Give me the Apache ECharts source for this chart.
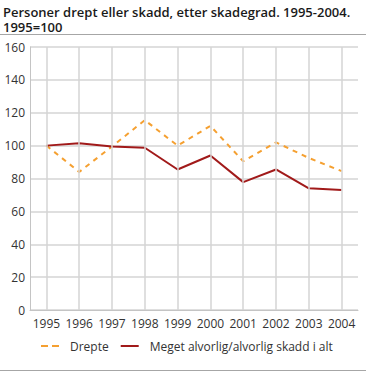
<!DOCTYPE html>
<html><head><meta charset="utf-8">
<script src="https://cdn.jsdelivr.net/npm/echarts@6/dist/echarts.min.js"></script>
<style>html,body{margin:0;padding:0;background:#fff}#c{width:366px;height:372px}</style>
</head><body><div id="c"></div>
<script>
var years = ['1995','1996','1997','1998','1999','2000','2001','2002','2003','2004'];
var drepte = [100, 84, 99.5, 115.5, 100, 112, 90.5, 102, 92.5, 84.5];
var skadd = [100, 101.4, 99.5, 98.7, 85.5, 94, 77.8, 85.5, 74, 73];
var yTicks = [0, 20, 40, 60, 80, 100, 120, 140, 160];
var seriesNames = ['Drepte', 'Meget alvorlig/alvorlig skadd i alt'];
var titleLines = ['Personer drept eller skadd, etter skadegrad. 1995-2004.', '1995=100'];

var chart = echarts.init(document.getElementById('c'), null, {renderer:'svg'});
var font = 'Open Sans';
var gridColor = '#d4d4d4';
var titleStyle = {fontFamily: font, fontSize: 13, fontWeight: 600, color: '#1a1a1a', lineHeight: 14};
chart.setOption({
  animation: false,
  title: [
    {text: titleLines[0], left: 3, top: 5, padding: 0, textStyle: titleStyle},
    {text: titleLines[1], left: 3, top: 20, padding: 0, textStyle: titleStyle}
  ],
  graphic: [
    {type:'rect', shape:{x:0,y:34,width:366,height:1}, style:{fill:'#a6a6a6'}},
    {type:'rect', shape:{x:0,y:370,width:366,height:1}, style:{fill:'#a6a6a6'}}
  ],
  grid: {left: 30, right: 8, top: 47, bottom: 62, containLabel: false},
  legend: {
    top: 335, left: 36,
    itemWidth: 18, itemHeight: 2, itemGap: 12,
    textStyle: {fontFamily: font, fontSize: 12, color: '#333', padding: [0,0,0,6]},
    data: [
      {name: seriesNames[0], icon: 'path://M0,0h7v2h-7z M11,0h7v2h-7z'},
      {name: seriesNames[1], icon: 'path://M0,0h18v2h-18z'}
    ]
  },
  xAxis: {
    type: 'category', data: years, boundaryGap: true,
    axisLine: {show: true, lineStyle: {color: '#c4c4c4', width: 1}},
    axisTick: {show: false},
    axisLabel: {fontFamily: font, fontSize: 12, color: '#333', margin: 7, interval: 0},
    splitLine: {show: false}
  },
  yAxis: {
    type: 'value', min: 0, max: 160, interval: 20,
    axisLine: {show: true, lineStyle: {color: '#c4c4c4', width: 1}},
    axisTick: {show: false},
    axisLabel: {fontFamily: font, fontSize: 12, color: '#333', margin: 5,
      formatter: function(v){ return yTicks.indexOf(v) >= 0 ? String(v) : ''; }},
    splitLine: {show: true, lineStyle: {color: gridColor, width: 1.5}}
  },
  series: [
    {name: 'vgrid', type: 'line', data: drepte, z: 0, silent: true, symbol: 'none',
     lineStyle: {opacity: 0}, tooltip: {show: false},
     markLine: {silent: true, symbol: ['none','none'], label: {show: false},
       animation: false,
       lineStyle: {color: gridColor, width: 1.5, type: 'solid'},
       emphasis: {disabled: true},
       data: years.map(function(y){ return {xAxis: y}; })}},
    {name: seriesNames[0], type: 'line', data: drepte, symbol: 'none', z: 3,
     itemStyle: {color: '#f5a031'},
     lineStyle: {color: '#f5a031', width: 2, type: [5, 5]}},
    {name: seriesNames[1], type: 'line', data: skadd, symbol: 'none', z: 4,
     itemStyle: {color: '#a11a1a'},
     lineStyle: {color: '#a11a1a', width: 2}}
  ]
});
</script></body></html>
